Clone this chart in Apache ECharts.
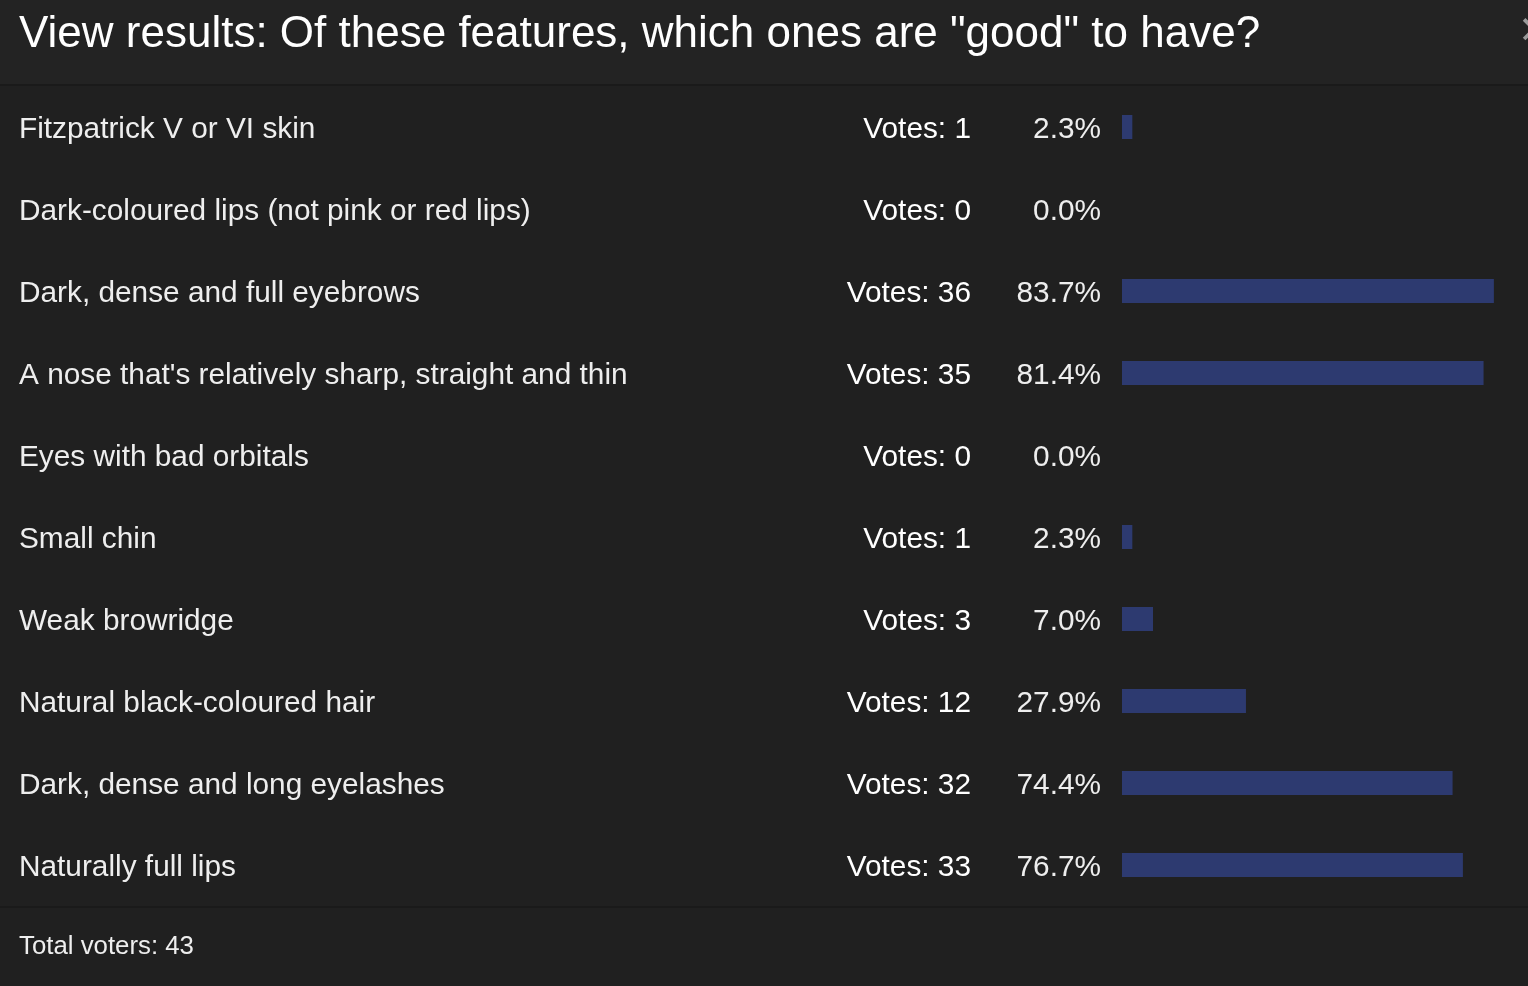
<!DOCTYPE html>
<html>
<head>
<meta charset="utf-8">
<script src="https://cdn.jsdelivr.net/npm/echarts@6/dist/echarts.min.js"></script>
<style>
  html, body { margin: 0; padding: 0; background: #202020; }
  #chart { width: 1528px; height: 986px; }
</style>
</head>
<body>
<div id="chart"></div>
<script>
const titleText = 'View results: Of these features, which ones are "good" to have?';
const features = [
  "Fitzpatrick V or VI skin",
  "Dark-coloured lips (not pink or red lips)",
  "Dark, dense and full eyebrows",
  "A nose that's relatively sharp, straight and thin",
  "Eyes with bad orbitals",
  "Small chin",
  "Weak browridge",
  "Natural black-coloured hair",
  "Dark, dense and long eyelashes",
  "Naturally full lips",
];
const votes = [1, 0, 36, 35, 0, 1, 3, 12, 32, 33];
const totalVoters = 43;

const percents = votes.map((v) => (v / totalVoters) * 100);
const labelFont = "'Liberation Sans', Arial, Helvetica, sans-serif";

const chart = echarts.init(document.getElementById("chart"));

// three category axes on the left, each one draws a column of text
const makeAxis = (margin, align, formatter, color) => ({
  type: "category",
  data: features,
  inverse: true,
  position: "left",
  axisLine: { show: false },
  axisTick: { show: false },
  splitLine: { show: false },
  axisLabel: {
    margin: margin,
    align: align,
    formatter: (v, i) => "{t|" + formatter(v, i) + "}",
    rich: {
      t: {
        color: color,
        fontSize: 29.8,
        fontFamily: labelFont,
        padding: [6, 0, 0, 0],
      },
    },
  },
});

const option = {
  backgroundColor: "#202020",
  animation: false,
  title: {
    text: titleText,
    left: 19,
    top: 13,
    padding: 0,
    textStyle: {
      color: "#ffffff",
      fontSize: 44,
      fontWeight: "normal",
      fontFamily: labelFont,
    },
  },
  graphic: [
    {
      type: "rect",
      z: -10,
      shape: { x: 0, y: 0, width: 1528, height: 84 },
      style: { fill: "#232323" },
    },
    {
      type: "rect",
      z: -9,
      shape: { x: 0, y: 84, width: 1528, height: 2 },
      style: { fill: "#1a1a1a" },
    },
    {
      type: "rect",
      z: -9,
      shape: { x: 0, y: 906, width: 1528, height: 2 },
      style: { fill: "#1a1a1a" },
    },
    {
      type: "text",
      left: 1518,
      top: 14,
      style: {
        text: "✕",
        fill: "#9a9a9a",
        fontSize: 38,
        fontFamily: "DejaVu Sans",
      },
    },
    {
      type: "text",
      left: 19,
      top: 934,
      style: {
        text: "Total voters: " + totalVoters,
        fill: "#eeeeee",
        fontSize: 25.8,
        fontFamily: labelFont,
      },
    },
  ],
  grid: {
    left: 1122,
    top: 86,
    right: 0,
    height: 820,
  },
  xAxis: {
    type: "value",
    min: 0,
    // 100% would sit beyond the right edge; the plot is cut there
    max: 91.4,
    show: false,
  },
  yAxis: [
    makeAxis(1103, "left", (v) => v, "#eeeeee"),
    makeAxis(151, "right", (v, i) => "Votes: " + votes[i], "#ffffff"),
    makeAxis(21, "right", (v, i) => percents[i].toFixed(1) + "%", "#eeeeee"),
  ],
  series: [
    {
      type: "bar",
      data: percents,
      barWidth: 24,
      itemStyle: { color: "#2d3a70" },
    },
  ],
};

chart.setOption(option);
</script>
</body>
</html>
